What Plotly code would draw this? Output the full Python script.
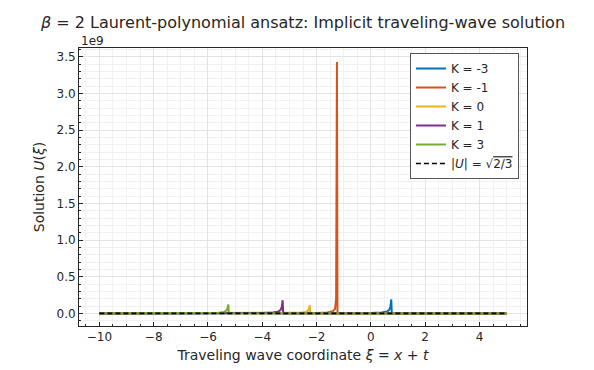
import plotly.graph_objects as go

# ---- data ----
labels = ["K = -3", "K = -1", "K = 0", "K = 1", "K = 3"]
colors = ["#0072BD", "#D95319", "#EDB120", "#7E2F8E", "#77AC30"]

xi_km3 = [-10, -4, -1, 0.0, 0.4, 0.6, 0.68, 0.72, 0.75, 0.77, 0.8, 2, 5]
u_km3 = [0, 0.0005e9, 0.002e9, 0.005e9, 0.012e9, 0.025e9, 0.05e9, 0.09e9, 0.19e9, 0.0, 0.0, 0.0, 0.0]

xi_km1 = [-10, -6, -3, -2, -1.6, -1.4, -1.32, -1.28, -1.25, -1.23, -1.2, 0, 5]
u_km1 = [0, 0.0005e9, 0.002e9, 0.005e9, 0.012e9, 0.03e9, 0.06e9, 0.2e9, 3.43e9, 0.0, 0.0, 0.0, 0.0]

xi_k0 = [-10, -6, -4, -3, -2.6, -2.4, -2.32, -2.28, -2.25, -2.23, -2.2, 0, 5]
u_k0 = [0, 0.0003e9, 0.001e9, 0.004e9, 0.01e9, 0.02e9, 0.035e9, 0.06e9, 0.11e9, 0.0, 0.0, 0.0, 0.0]

xi_k1 = [-10, -7, -5, -4, -3.6, -3.4, -3.32, -3.28, -3.25, -3.23, -3.2, 0, 5]
u_k1 = [0, 0.0005e9, 0.002e9, 0.005e9, 0.012e9, 0.025e9, 0.05e9, 0.09e9, 0.18e9, 0.0, 0.0, 0.0, 0.0]

xi_k3 = [-10, -8, -6.5, -6, -5.6, -5.4, -5.32, -5.28, -5.25, -5.23, -5.2, 0, 5]
u_k3 = [0, 0.0005e9, 0.002e9, 0.005e9, 0.01e9, 0.02e9, 0.04e9, 0.07e9, 0.12e9, 0.0, 0.0, 0.0, 0.0]

xi_ref = [-10, 5]
u_ref = [0.816496580927726, 0.816496580927726]  # sqrt(2/3)

y_tickvals = [0, 0.5e9, 1.0e9, 1.5e9, 2.0e9, 2.5e9, 3.0e9, 3.5e9]
y_ticktext = ["0.0", "0.5", "1.0", "1.5", "2.0", "2.5", "3.0", "3.5"]
x_tickvals = [-10, -8, -6, -4, -2, 0, 2, 4]
x_ticktext = ["\u221210", "\u22128", "\u22126", "\u22124", "\u22122", "0", "2", "4"]

series = [(xi_km3, u_km3), (xi_km1, u_km1), (xi_k0, u_k0), (xi_k1, u_k1), (xi_k3, u_k3)]

FONT = "DejaVu Sans"
fig = go.Figure()
for (x, y), name, c in zip(series, labels, colors):
    fig.add_trace(go.Scatter(x=x, y=y, mode="lines", name=name,
                             line=dict(color=c, width=2)))
fig.add_trace(go.Scatter(x=xi_ref, y=u_ref, mode="lines",
                         name="|<i>U</i>| = \u221a<span style='text-decoration:overline'>2/3</span>",
                         line=dict(color="black", width=1.6, dash="5px,3px")))

axis_common = dict(
    showline=True, linecolor="#262626", linewidth=1, mirror=True,
    ticks="inside", ticklen=4, tickcolor="#262626", tickwidth=1,
    showgrid=True, gridcolor="#e3e3e3", gridwidth=0.8,
    zeroline=False,
    tickfont=dict(family=FONT, size=12, color="#262626"),
)

fig.update_xaxes(
    range=[-10.75, 5.75], tickvals=x_tickvals, ticktext=x_ticktext,
    minor=dict(dtick=0.5, tick0=0, ticks="inside", ticklen=2, tickcolor="#262626",
               showgrid=True, gridcolor="#f1f1f1", gridwidth=0.6),
    title=dict(text="Traveling wave coordinate <i>\u03be</i> = <i>x</i> + <i>t</i>",
               font=dict(family=FONT, size=14, color="#262626"), standoff=6),
    **axis_common,
)
fig.update_yaxes(
    range=[-0.172e9, 3.62e9], tickvals=y_tickvals, ticktext=y_ticktext,
    minor=dict(dtick=0.1e9, tick0=0, ticks="inside", ticklen=2, tickcolor="#262626",
               showgrid=True, gridcolor="#f1f1f1", gridwidth=0.6),
    title=dict(text="Solution <i>U</i>(<i>\u03be</i>)",
               font=dict(family=FONT, size=14, color="#262626"), standoff=8),
    **axis_common,
)

fig.add_annotation(text="1e9", xref="paper", yref="paper", x=0, y=1,
                   xanchor="left", yanchor="bottom", showarrow=False,
                   font=dict(family=FONT, size=12, color="#262626"), yshift=-2)

fig.update_layout(
    width=594, height=370,
    margin=dict(l=71, r=75, t=40, b=52),
    paper_bgcolor="white", plot_bgcolor="white",
    font=dict(family=FONT, color="#262626"),
    title=dict(text="<i>\u03b2</i> = 2 Laurent-polynomial ansatz: Implicit traveling-wave solution",
               x=295/594, xanchor="center", y=1 - 14/370, yanchor="middle",
               font=dict(family=FONT, size=16, color="#262626")),
    showlegend=True,
    legend=dict(x=0.982, y=0.982, xanchor="right", yanchor="top",
                bgcolor="white", bordercolor="#555555", borderwidth=1,
                font=dict(family=FONT, size=12, color="#262626"),
                tracegroupgap=0, itemwidth=30),
)

fig.write_html("out.html")
